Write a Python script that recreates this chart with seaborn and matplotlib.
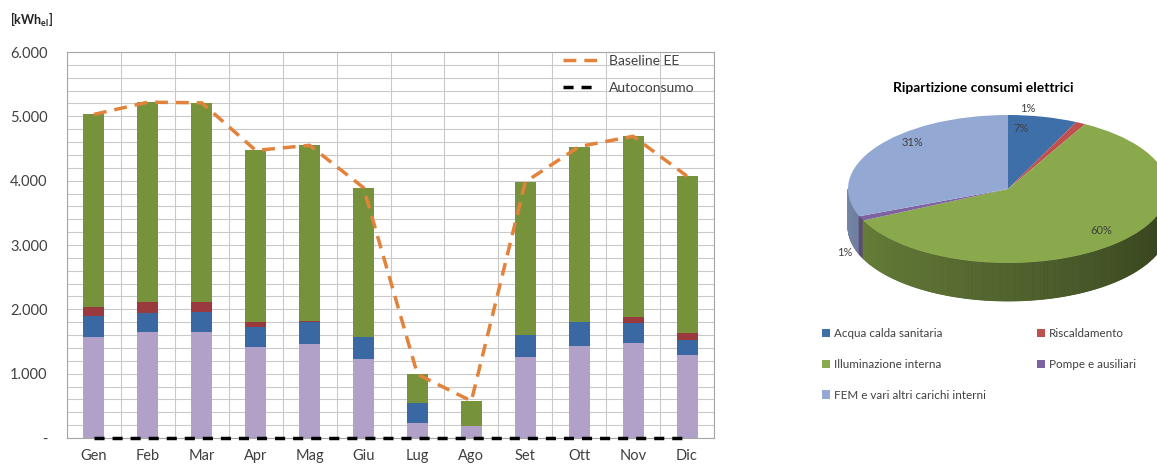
import numpy as np
import pandas as pd
import matplotlib
matplotlib.use("Agg")
import matplotlib.pyplot as plt
import matplotlib.colors as mcolors
from matplotlib.patches import Patch
from matplotlib.lines import Line2D
from matplotlib.ticker import FuncFormatter, MultipleLocator
import seaborn as sns

# ---- monthly electricity demand [kWh_el] ----
months = ["Gen", "Feb", "Mar", "Apr", "Mag", "Giu", "Lug", "Ago", "Set", "Ott", "Nov", "Dic"]
fem = [1570, 1650, 1650, 1410, 1455, 1227, 228, 190, 1260, 1430, 1470, 1290]
acs = [320, 300, 315, 310, 355, 345, 320, 0, 340, 370, 320, 230]
risc = [150, 170, 145, 90, 15, 0, 0, 0, 0, 10, 90, 110]
illum = [2990, 3100, 3100, 2660, 2725, 2320, 440, 385, 2380, 2720, 2810, 2440]
baseline_ee = [5030, 5220, 5210, 4470, 4550, 3890, 990, 575, 3980, 4530, 4690, 4070]
autoconsumo = [0, 0, 0, 0, 0, 0, 0, 0, 0, 0, 0, 0]

# ---- yearly breakdown [%] ----
pie_labels = ["Acqua calda sanitaria", "Riscaldamento", "Illuminazione interna",
              "Pompe e ausiliari", "FEM e vari altri carichi interni"]
pie_pct = [7, 1, 60, 1, 31]

# colours
c_fem, c_acs, c_risc, c_illum = "#B1A0C7", "#3A68A2", "#9B3A3E", "#76933C"
c_base = "#E3823B"
pie_colors = ["#3F6FA9", "#C0504D", "#8AA94C", "#7E62A1", "#93A9D3"]
grid_c = "#C9C9C9"
text_c = "#404040"

sns.set_theme(style="white")
plt.rcParams["font.family"] = ["Lato", "DejaVu Sans"]

W, H = 1157, 466
fig = plt.figure(figsize=(W / 100, H / 100), dpi=100)
fig.patch.set_facecolor("white")

# ================= stacked monthly bars =================
ax = fig.add_axes([67 / W, 1 - 438 / H, (714 - 67) / W, (438 - 52) / H])
df = pd.DataFrame({"mese": months, "fem": fem, "acs": acs, "risc": risc, "illum": illum})
df["lvl1"] = df["fem"]
df["lvl2"] = df["lvl1"] + df["acs"]
df["lvl3"] = df["lvl2"] + df["risc"]
df["lvl4"] = df["lvl3"] + df["illum"]

for col, color in [("lvl4", c_illum), ("lvl3", c_risc), ("lvl2", c_acs), ("lvl1", c_fem)]:
    sns.barplot(data=df, x="mese", y=col, order=months, color=color, saturation=1,
                width=0.39, errorbar=None, linewidth=0, ax=ax, zorder=2)

pos = np.arange(len(months))
sns.lineplot(x=pos, y=baseline_ee, ax=ax, color=c_base, linewidth=2.5, sort=False, zorder=4)
ax.lines[-1].set_linestyle((0, (3.7, 2.3)))
sns.lineplot(x=pos, y=autoconsumo, ax=ax, color="black", linewidth=2.5, sort=False, zorder=4)
ax.lines[-1].set_linestyle((0, (2.9, 2.3)))
ax.lines[-1].set_clip_on(False)

ax.set_xlim(-0.5, len(months) - 0.5)
ax.set_ylim(0, 6000)
ax.set_xlabel("")
ax.set_ylabel("")
ax.yaxis.set_major_locator(MultipleLocator(1000))
ax.yaxis.set_minor_locator(MultipleLocator(200))
ax.yaxis.set_major_formatter(FuncFormatter(
    lambda v, p: "-" if v == 0 else f"{int(v):,}".replace(",", ".")))
ax.set_xticks(pos)
ax.set_xticklabels(months)
ax.set_xticks(np.arange(-0.5, len(months)), minor=True)
ax.tick_params(axis="x", which="major", length=0, pad=8, labelsize=10.5, labelcolor=text_c)
ax.tick_params(axis="x", which="minor", length=5, direction="out", color="#A0A0A0", width=0.8)
ax.tick_params(axis="y", which="major", length=4, direction="out", color="#A0A0A0",
               width=0.8, pad=10, labelsize=10.5, labelcolor=text_c)
ax.tick_params(axis="y", which="minor", length=0)
ax.grid(which="both", axis="y", color=grid_c, linewidth=0.8)
ax.grid(which="minor", axis="x", color=grid_c, linewidth=0.8)
ax.grid(which="major", axis="x", visible=False)
ax.set_axisbelow(True)
for s in ax.spines.values():
    s.set_visible(True)
    s.set_color("#A6A6A6")
    s.set_linewidth(0.8)

leg_handles = [Line2D([], [], color=c_base, lw=2.5, linestyle=(0, (3.7, 2.3))),
               Line2D([], [], color="black", lw=2.5, linestyle=(0, (2.9, 2.3)))]
fig.legend(leg_handles, ["Baseline EE", "Autoconsumo"], loc="upper left",
           bbox_to_anchor=(563 / W, 1 - 55 / H), frameon=False, fontsize=10,
           handlelength=2.6, labelspacing=1.05, borderaxespad=0, borderpad=0,
           handletextpad=0.7, labelcolor=text_c)

fig.text(10 / W, 1 - 20 / H, r"[kWh$_{\mathregular{el}}$]", fontsize=9,
         fontweight="bold", color="#222222", ha="left", va="center")

# ================= 3-D style pie =================
cx, cy, rx, ry = 1008, 189, 160, 74
left_px, right_px, top_px, bot_px = 820, W, 95, 320
pax = fig.add_axes([left_px / W, 1 - bot_px / H, (right_px - left_px) / W, (bot_px - top_px) / H])
depth = 38 / ry

# side wall (front half only), shaded darker toward the right
bounds = np.cumsum([0] + pie_pct) * 3.6
steps = np.linspace(180, 360, 361)
for t0, t1 in zip(steps[:-1], steps[1:]):
    tm = 0.5 * (t0 + t1)
    cw = (90 - tm) % 360
    k = min(np.searchsorted(bounds, cw, side="right") - 1, len(pie_pct) - 1)
    shade = 0.80 - 0.44 * (tm - 180) / 180
    rgb = np.array(mcolors.to_rgb(pie_colors[k])) * shade
    a0, a1 = np.radians(t0), np.radians(t1)
    xs = [np.cos(a0), np.cos(a1), np.cos(a1), np.cos(a0)]
    ys = [np.sin(a0), np.sin(a1), np.sin(a1) - depth, np.sin(a0) - depth]
    pax.fill(xs, ys, color=rgb, linewidth=0.6, edgecolor=rgb, zorder=1)

pax.pie(pie_pct, colors=pie_colors, startangle=90, counterclock=False, radius=1,
        wedgeprops=dict(linewidth=0), frame=False)
for w in pax.patches[-len(pie_pct):]:
    w.set_zorder(3)
pax.set_aspect("auto")
pax.set_xlim((left_px - cx) / rx, (right_px - cx) / rx)
pax.set_ylim((cy - bot_px) / ry, (cy - top_px) / ry)
pax.axis("off")

# percentage labels
label_xy = [(1021, 128), (1028, 108), (1101, 231), (845, 253), (912, 142)]
for (px, py), p in zip(label_xy, pie_pct):
    pax.text((px - cx) / rx, (cy - py) / ry, f"{p}%", fontsize=8, color=text_c,
             ha="center", va="center", zorder=5)

fig.text(983 / W, 1 - 88 / H, "Ripartizione consumi elettrici", fontsize=10,
         fontweight="bold", color="black", ha="center", va="center")

# pie legend in two columns
def sq(c):
    return Patch(facecolor=c, edgecolor="none")

col1 = [0, 2, 4]
col2 = [1, 3]
for idx, x0 in [(col1, 822), (col2, 1037)]:
    fig.legend([sq(pie_colors[i]) for i in idx], [pie_labels[i] for i in idx],
               loc="upper left", bbox_to_anchor=(x0 / W, 1 - 328 / H), frameon=False,
               fontsize=8.4, handlelength=0.7, handleheight=0.7, handletextpad=0.35,
               labelspacing=1.7, borderaxespad=0, borderpad=0, labelcolor=text_c)

fig.savefig("out.png", dpi=100, facecolor="white")
